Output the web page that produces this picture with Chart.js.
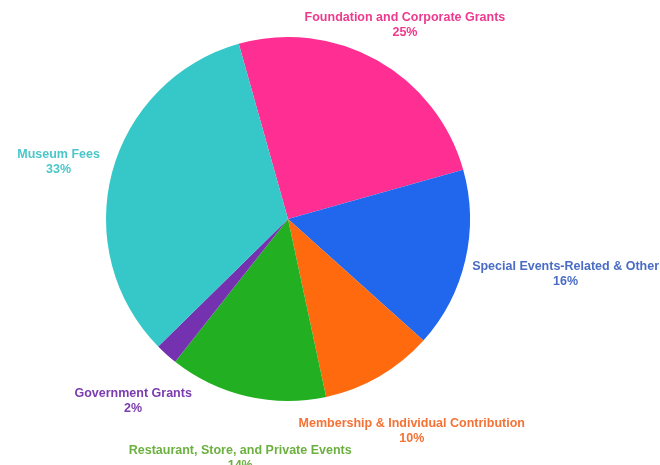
<!DOCTYPE html>
<html>
<head>
<meta charset="utf-8">
<script src="https://cdn.jsdelivr.net/npm/chart.js@4.4.0/dist/chart.umd.min.js"></script>
<style>
  html, body { margin: 0; padding: 0; background: #fff; }
  #wrap { width: 660px; height: 465px; }
</style>
</head>
<body>
<div id="wrap"><canvas id="revenueChart"></canvas></div>
<script>
// revenue sources, clockwise from the top
const categories = [
    "Foundation and Corporate Grants",
    "Special Events-Related & Other",
    "Membership & Individual Contribution",
    "Restaurant, Store, and Private Events",
    "Government Grants",
    "Museum Fees"
];
const shares = [25, 16, 10, 14, 2, 33];

const sliceColors = ["#ff2e92", "#2067ee", "#ff6a0e", "#22b022", "#7432b0", "#36c8c8"];
const textColors  = ["#ee3a8e", "#4a6cc4", "#f57236", "#6cb040", "#7a3cae", "#4cc6c8"];

// draws the two-line labels outside each slice
const outsideLabels = {
    id: "outsideLabels",
    afterDatasetsDraw(chart) {
        const ctx = chart.ctx;
        const meta = chart.getDatasetMeta(0);
        ctx.save();
        ctx.font = "bold 12.5px 'Liberation Sans', Arial, sans-serif";
        ctx.textAlign = "center";
        ctx.textBaseline = "middle";
        meta.data.forEach(function (arc, i) {
            const p = arc.getProps(["x", "y", "startAngle", "endAngle", "outerRadius"], true);
            const mid = (p.startAngle + p.endAngle) / 2;
            // angle measured clockwise from the top
            const a = mid + Math.PI / 2;
            const s = Math.sin(a), c = Math.cos(a);
            const line1 = categories[i];
            const line2 = shares[i] + "%";
            const w = Math.max(ctx.measureText(line1).width, ctx.measureText(line2).width);
            const h = 30;
            const mx = p.x + s * p.outerRadius;
            const my = p.y - c * p.outerRadius;
            let cx = mx + Math.sign(s) * s * s * (w / 2 + 16);
            let cy = my - c * (h / 2 + (c < 0 ? 48 : 25));
            cy = Math.max(cy, h / 2 + 10);
            cx = Math.min(Math.max(cx, w / 2 + 4), chart.width - w / 2 - 1);
            ctx.fillStyle = textColors[i];
            ctx.fillText(line1, cx, cy - 7.5);
            ctx.fillText(line2, cx, cy + 7.5);
        });
        ctx.restore();
    }
};

document.addEventListener("DOMContentLoaded", function () {
    const ctx = document.getElementById("revenueChart").getContext("2d");

    new Chart(ctx, {
        type: "pie",
        data: {
            labels: categories,
            datasets: [{
                data: shares,
                backgroundColor: sliceColors,
                borderWidth: 0
            }]
        },
        options: {
            responsive: true,
            maintainAspectRatio: false,
            animation: false,
            rotation: -15.7,
            layout: {
                padding: { left: 106, right: 190, top: 37, bottom: 64 }
            },
            plugins: {
                legend: { display: false },
                tooltip: { enabled: false }
            }
        },
        plugins: [outsideLabels]
    });
});
</script>
</body>
</html>
